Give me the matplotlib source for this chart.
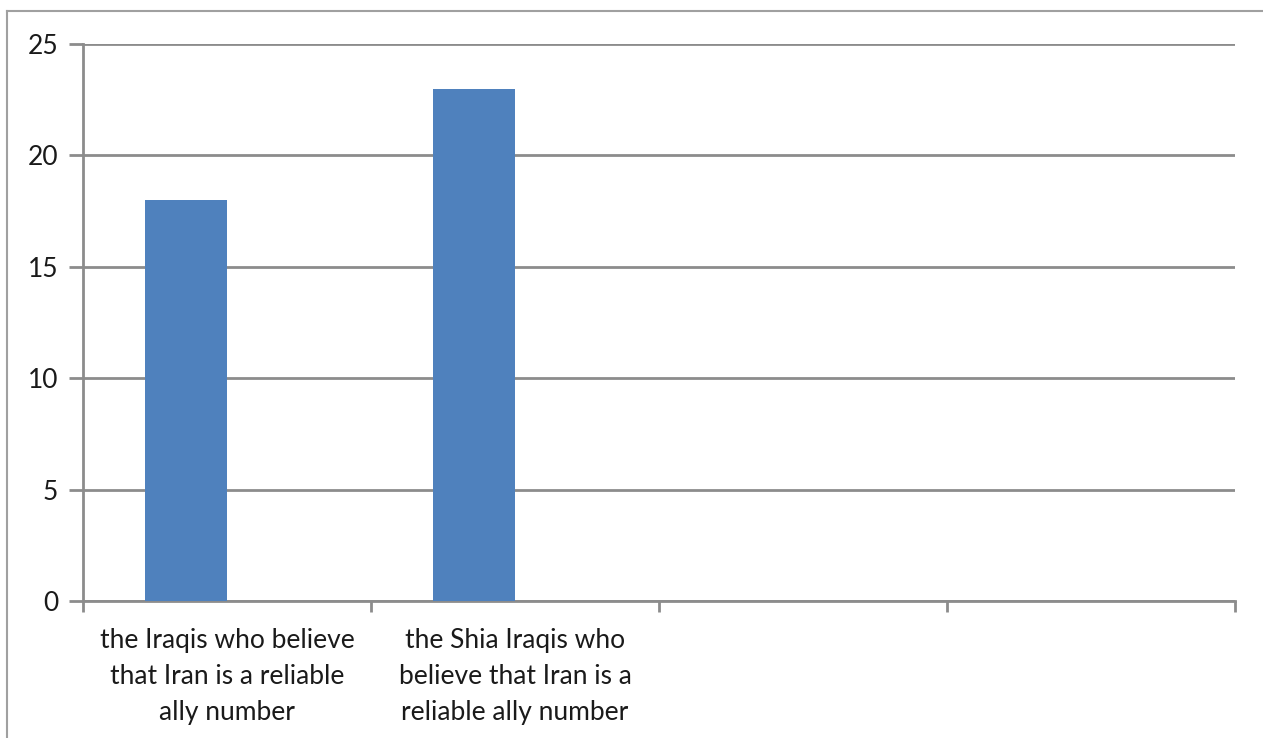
import numpy as np
import matplotlib
matplotlib.use("Agg")
import matplotlib.pyplot as plt
from matplotlib.lines import Line2D

# -- data
categories = ["the Iraqis who believe\nthat Iran is a reliable\nally number",
              "the Shia Iraqis who\nbelieve that Iran is a\nreliable ally number",
              "", ""]
series_1 = [18, 23, np.nan, np.nan]
series_2 = [np.nan, np.nan, np.nan, np.nan]   # empty second series (Excel layout)
y_ticks = [0, 5, 10, 15, 20, 25]

plt.rcParams["font.family"] = ["Lato", "DejaVu Sans"]
GRID = "#8c8c8c"
BAR = "#4f81bd"

W, H = 1263, 738
fig = plt.figure(figsize=(W / 100, H / 100), dpi=100)
ax = fig.add_axes([83 / W, 1 - 601 / H, (1235 - 83) / W, (601 - 44) / H])

# Excel clustered column: gap width 150 % -> bar width = 1 / 3.5 of a slot
n = len(categories)
x = np.arange(n)
bw = 1 / 3.5
ax.bar(x - 0.5 + 0.75 * bw + bw / 2, series_1, width=bw, color=BAR, zorder=3)
ax.bar(x - 0.5 + 0.75 * bw + 1.5 * bw, series_2, width=bw, color="#c0504d", zorder=3)

ax.set_xlim(-0.5, n - 0.5)
ax.set_ylim(0, 25)
ax.set_yticks(y_ticks)
ax.set_yticklabels([str(v) for v in y_ticks], fontsize=19, color="#1a1a1a")
ax.yaxis.grid(True, color=GRID, lw=2, zorder=0)

# category labels centered in slots, ticks on slot boundaries
ax.set_xticks(np.arange(n + 1) - 0.5)
ax.set_xticklabels([])
ax.tick_params(axis="x", length=8, width=2, color=GRID)
ax.tick_params(axis="y", length=10, width=2, color=GRID, pad=8)
for i, lab in enumerate(categories):
    ax.text(i, -1.22, lab, ha="center", va="top", fontsize=19,
            color="#1a1a1a", linespacing=1.55, transform=ax.transData)

for s in ["top", "right"]:
    ax.spines[s].set_visible(False)
ax.spines["left"].set_color(GRID); ax.spines["left"].set_linewidth(2)
ax.spines["bottom"].set_color(GRID); ax.spines["bottom"].set_linewidth(2)

# chart-area border
fig.add_artist(Line2D([7 / W, 7 / W], [0, 1 - 11 / H], color="#a0a0a0", lw=1.5))
fig.add_artist(Line2D([7 / W, 1], [1 - 11 / H, 1 - 11 / H], color="#a0a0a0", lw=1.5))

fig.savefig("out.png", dpi=100)
